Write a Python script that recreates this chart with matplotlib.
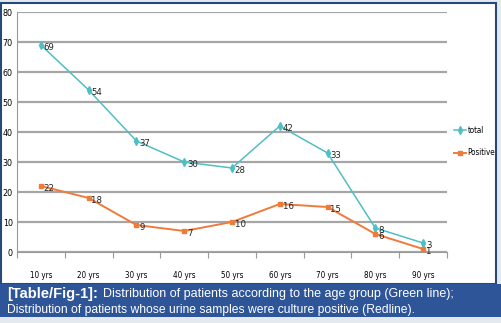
import matplotlib.pyplot as plt
from matplotlib.patches import Rectangle
from matplotlib.font_manager import FontProperties

ages = ["10 yrs", "20 yrs", "30 yrs", "40 yrs", "50 yrs", "60 yrs", "70 yrs", "80 yrs", "90 yrs"]
total = [69, 54, 37, 30, 28, 42, 33, 8, 3]
positive = [22, 18, 9, 7, 10, 16, 15, 6, 1]
yticks = [0, 10, 20, 30, 40, 50, 60, 70, 80]

W, H = 501, 323
teal = "#4fbfc4"
orange = "#ef7b3a"
navy = "#24497a"
band = "#2d5598"

def narrow(size):
    return FontProperties(family="DejaVu Sans", stretch="condensed", size=size)

fig = plt.figure(figsize=(W / 100, H / 100), dpi=100)
fig.patch.set_facecolor("#e4e8ef")

def px(x, y, w, h):
    # pixel box (top-left origin) to figure fraction
    return (x / W, 1 - (y + h) / H, w / W, h / H)

# white chart panel with navy frame
x0, y0, w0, h0 = px(1, 3, 495, 281)
fig.patches.append(Rectangle((x0, y0), w0, h0, transform=fig.transFigure,
                             facecolor="white", edgecolor=navy, linewidth=1.5, zorder=-2))
# caption band
x1, y1, w1, h1 = px(0, 284, 501, 33)
fig.patches.append(Rectangle((x1, y1), w1, h1, transform=fig.transFigure,
                             facecolor=band, edgecolor="none", zorder=-1))

ax = fig.add_axes(px(17, 12, 430, 240))
ax.set_zorder(2)
ax.set_facecolor("none")
xs = [i + 0.5 for i in range(len(ages))]

ax.plot(xs, total, color=teal, lw=1.1, marker="d", ms=4, label="total", zorder=3)
ax.plot(xs, positive, color=orange, lw=1.4, marker="s", ms=3.5, label="Positive", zorder=3)

for x, v in zip(xs, total):
    ax.annotate(str(v), (x, v), xytext=(2, -2), textcoords="offset points",
                fontproperties=narrow(6.8), color="#222222", va="center")
for x, v in zip(xs, positive):
    ax.annotate(str(v), (x, v), xytext=(2, -2), textcoords="offset points",
                fontproperties=narrow(6.8), color="#222222", va="center")

ax.set_xlim(0, 9)
ax.set_ylim(0, 80)
ax.set_yticks(yticks)
ax.set_yticklabels([str(t) for t in yticks], fontproperties=narrow(6.4))
ax.set_xticks(range(10))
ax.set_xticklabels([])
ax.set_xticks(xs, minor=True)
ax.set_xticklabels(ages, minor=True, fontproperties=narrow(5.8))
ax.tick_params(axis="x", which="major", length=4, color="#999999", direction="out")
ax.tick_params(axis="x", which="minor", length=0, pad=14)
ax.tick_params(axis="y", length=0, pad=3)
ax.yaxis.grid(True, color="#a6a6a6", lw=1.6)
ax.set_axisbelow(True)
for s in ["top", "right"]:
    ax.spines[s].set_visible(False)
ax.spines["left"].set_color("#999999")
ax.spines["bottom"].set_color("#999999")

leg = ax.legend(loc="center left", bbox_to_anchor=(1.0, 0.46), frameon=False,
                prop=narrow(5.8), handlelength=1.5, handletextpad=0.15,
                labelspacing=1.7, borderaxespad=0.5)

# caption
cap_x = 7 / W
t1 = fig.text(cap_x, 1 - 294 / H, "[Table/Fig-1]:", color="white", fontsize=10.5,
              fontweight="bold", family="Liberation Sans", va="center", zorder=5)
fig.canvas.draw()
bb = t1.get_window_extent()
fig.text(bb.x1 / W + 5 / W, 1 - 294 / H,
         "Distribution of patients according to the age group (Green line);",
         color="white", fontsize=9, family="Liberation Sans", va="center", zorder=5)
fig.text(cap_x, 1 - 310 / H,
         "Distribution of patients whose urine samples were culture positive (Redline).",
         color="white", fontsize=8.7, family="Liberation Sans", va="center", zorder=5)

fig.savefig("out.png", dpi=100)
